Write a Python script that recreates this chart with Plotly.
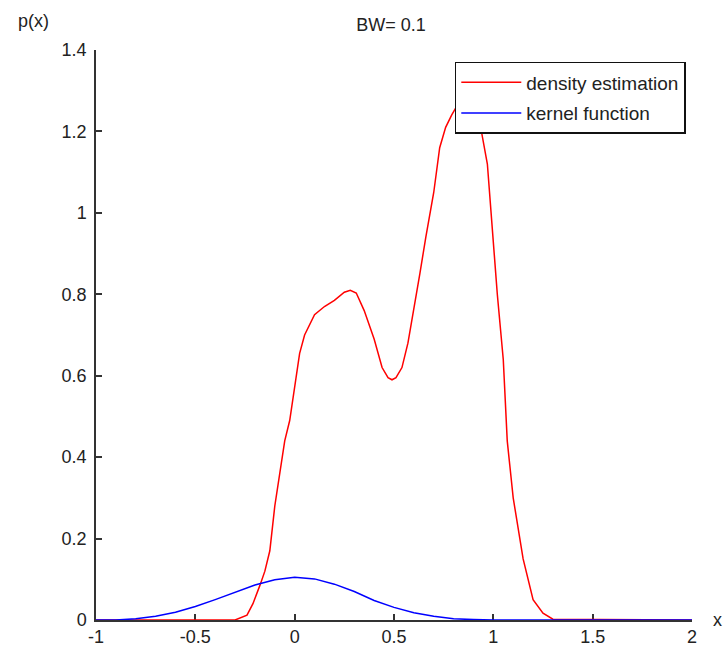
import plotly.graph_objects as go

# ---- data ----
density_x = [-1.0, -0.3, -0.24, -0.21, -0.175, -0.15, -0.125, -0.1, -0.075, -0.05, -0.025,
             0.0, 0.025, 0.05, 0.075, 0.1, 0.15, 0.2, 0.25, 0.28, 0.31, 0.35, 0.4, 0.44,
             0.47, 0.49, 0.51, 0.54, 0.57, 0.6, 0.63, 0.66, 0.7, 0.73, 0.76, 0.79, 0.82,
             0.85, 0.88, 0.91, 0.94, 0.97, 1.0, 1.02, 1.05, 1.07, 1.1, 1.15, 1.2, 1.25,
             1.3, 2.0]
density_y = [0.0, 0.0, 0.012, 0.04, 0.085, 0.12, 0.17, 0.28, 0.36, 0.44, 0.49,
             0.57, 0.655, 0.70, 0.725, 0.75, 0.77, 0.785, 0.805, 0.81, 0.803, 0.76, 0.69, 0.62,
             0.595, 0.59, 0.595, 0.62, 0.68, 0.76, 0.85, 0.94, 1.05, 1.16, 1.21, 1.24, 1.265,
             1.27, 1.26, 1.24, 1.20, 1.12, 0.92, 0.80, 0.64, 0.44, 0.30, 0.15, 0.05, 0.017,
             0.002, 0.0]

kernel_x = [-1.0, -0.9, -0.8, -0.7, -0.6, -0.5, -0.4, -0.3, -0.2, -0.1, 0.0,
            0.1, 0.2, 0.3, 0.4, 0.5, 0.6, 0.7, 0.8, 0.9, 1.0, 2.0]
kernel_y = [0.0, 0.0, 0.003, 0.009, 0.019, 0.033, 0.050, 0.068, 0.086, 0.099, 0.105,
            0.101, 0.088, 0.070, 0.048, 0.031, 0.018, 0.009, 0.003, 0.001, 0.0, 0.0]

x_ticks = [-1, -0.5, 0, 0.5, 1, 1.5, 2]
x_tick_labels = ["-1", "-0.5", "0", "0.5", "1", "1.5", "2"]
y_ticks = [0, 0.2, 0.4, 0.6, 0.8, 1.0, 1.2, 1.4]
y_tick_labels = ["0", "0.2", "0.4", "0.6", "0.8", "1", "1.2", "1.4"]

FONT = "Liberation Sans, Arial, sans-serif"
TXT = "#222222"

fig = go.Figure()
fig.add_trace(go.Scatter(x=density_x, y=density_y, mode="lines",
                         name="density estimation", legendgroup="a",
                         line=dict(color="#ff0000", width=1.5)))
fig.add_trace(go.Scatter(x=kernel_x, y=kernel_y, mode="lines",
                         name="kernel function", legendgroup="b",
                         line=dict(color="#0000ff", width=1.5)))

axis_common = dict(showgrid=False, zeroline=False, showline=True,
                   linecolor="#333333", linewidth=1.5, ticks="inside",
                   ticklen=6, tickwidth=1.5, tickcolor="#333333",
                   tickfont=dict(family=FONT, size=18, color=TXT),
                   mirror=False, layer="below traces", automargin=False)

fig.update_layout(
    width=726, height=650,
    margin=dict(l=96, r=34, t=50, b=30),
    paper_bgcolor="white", plot_bgcolor="white",
    font=dict(family=FONT, size=18, color=TXT),
    title=dict(text="BW= 0.1", x=0.5386, xanchor="center",
               y=1 - 25 / 650, yanchor="middle", automargin=False,
               font=dict(family=FONT, size=18, color=TXT)),
    xaxis=dict(range=[-1, 2], tickvals=x_ticks, ticktext=x_tick_labels, **axis_common),
    yaxis=dict(range=[0, 1.4], tickvals=y_ticks, ticktext=y_tick_labels,
               ticklabelstandoff=4, **axis_common),
    legend=dict(x=0.602, y=0.979, xanchor="left", yanchor="top",
                bgcolor="white", bordercolor="#111111", borderwidth=1.5,
                font=dict(family=FONT, size=19, color=TXT),
                tracegroupgap=3, itemwidth=60),
    showlegend=True,
    annotations=[
        dict(text="p(x)", xref="paper", yref="paper", x=-0.1057, y=1.0509,
             xanchor="center", yanchor="middle", showarrow=False,
             font=dict(family=FONT, size=18, color=TXT)),
        dict(text="x", xref="paper", yref="paper", x=1.0436, y=0.0,
             xanchor="center", yanchor="middle", showarrow=False,
             font=dict(family=FONT, size=18, color=TXT)),
    ],
)

fig.write_html("out.html")
